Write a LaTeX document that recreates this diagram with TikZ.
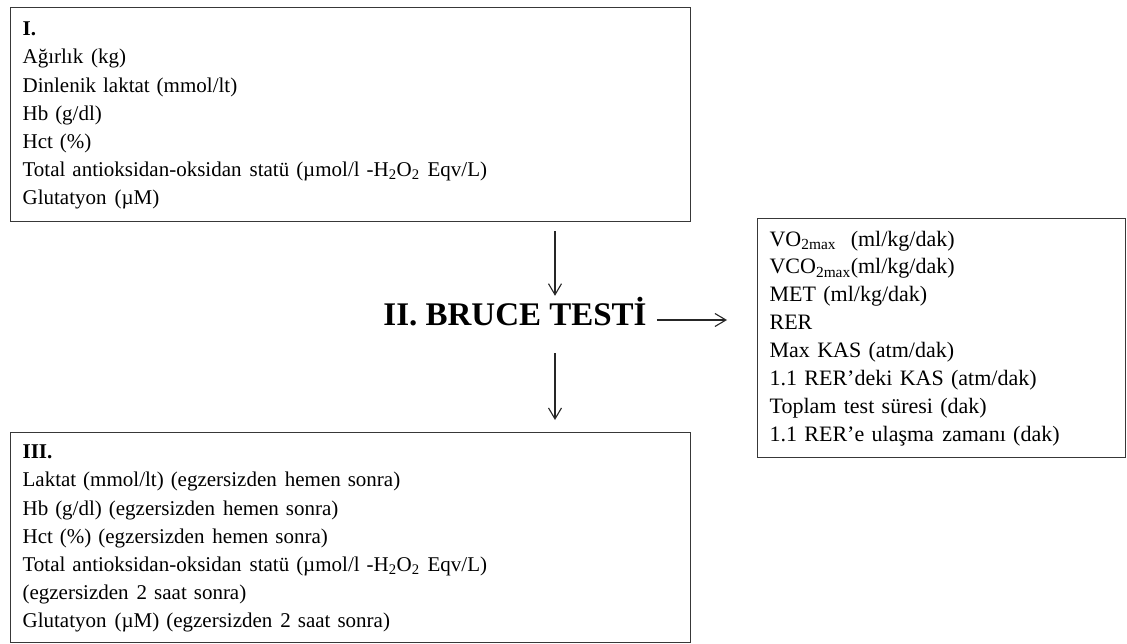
\documentclass[tikz,border=0pt]{standalone}
\usepackage{fontspec}
\setmainfont{Liberation Serif}
\usetikzlibrary{arrows.meta,calc}

% a slightly wider word gap, as in the set text
\newcommand{\wgap}{\hspace{0.38em}}

\tikzset{
  listbox/.style={draw=black!78, line width=1.2pt, anchor=north west,
    align=left, inner xsep=12pt, inner ysep=0pt,
    font=\fontsize{21}{28.2}\selectfont},
  flow/.style={line width=1.1pt, draw=black!85,
    -{Straight Barb[length=11pt,width=13pt,line width=1.1pt]}},
  title/.style={font=\fontsize{33}{40}\selectfont\bfseries, inner sep=0pt,
    text height=22pt, text depth=0pt, anchor=base}
}

\begin{document}
\begin{tikzpicture}[x=1pt,y=-1pt]
\useasboundingbox (0,0) rectangle (1127,644);

% stage I: measurements before the test
\node[listbox, text width=656pt, minimum width=680pt, minimum height=214pt] (pre) at (10,7)
{\strut\textbf{I.}\\
Ağırlık\wgap(kg)\\
Dinlenik laktat (mmol/lt)\\
Hb (g/dl)\\
Hct (\%)\\
Total antioksidan-oksidan\wgap statü (µmol/l -H\textsubscript{2}O\textsubscript{2}\wgap Eqv/L)\\
Glutatyon\wgap(µM)\strut};

% stage II: the treadmill test
\node[title] (bruce) at (515,326) {II. BRUCE TESTİ};

% parameters recorded during the test
\node[listbox, font=\fontsize{22}{27.9}\selectfont, text width=344pt,
      minimum width=368pt, minimum height=239pt] (params) at (757,218)
{\strut VO\textsubscript{2max}\ \ (ml/kg/dak)\\
VCO\textsubscript{2max}(ml/kg/dak)\\
MET (ml/kg/dak)\\
RER\\
Max KAS (atm/dak)\\
1.1 RER’deki KAS (atm/dak)\\
Toplam test süresi (dak)\\
1.1 RER’e ulaşma\wgap zamanı (dak)\strut};

% stage III: measurements after the test
\node[listbox, text width=656pt, minimum width=680pt, minimum height=210pt] (post) at (10,432)
{\strut\textbf{III.}\\
Laktat (mmol/lt) (egzersizden\wgap hemen sonra)\\
Hb (g/dl) (egzersizden\wgap hemen sonra)\\
Hct (\%) (egzersizden\wgap hemen sonra)\\
Total antioksidan-oksidan\wgap statü (µmol/l -H\textsubscript{2}O\textsubscript{2}\wgap Eqv/L)\\
(egzersizden\wgap 2 saat sonra)\\
Glutatyon\wgap(µM) (egzersizden\wgap 2 saat sonra)\strut};

% vertical axis of the flow
\coordinate (axis) at (555,0);

\draw[flow] ([yshift=-9pt]pre.south -| axis) -- ([yshift=8pt]bruce.north -| axis);
\draw[flow] ([yshift=-27pt]bruce.south -| axis) -- ([yshift=12pt]post.north -| axis);
\draw[flow] ([xshift=10pt,yshift=-5pt]bruce.east)
  -- ([xshift=-30pt,yshift=-5pt]bruce.east -| params.west);
\end{tikzpicture}
\end{document}
